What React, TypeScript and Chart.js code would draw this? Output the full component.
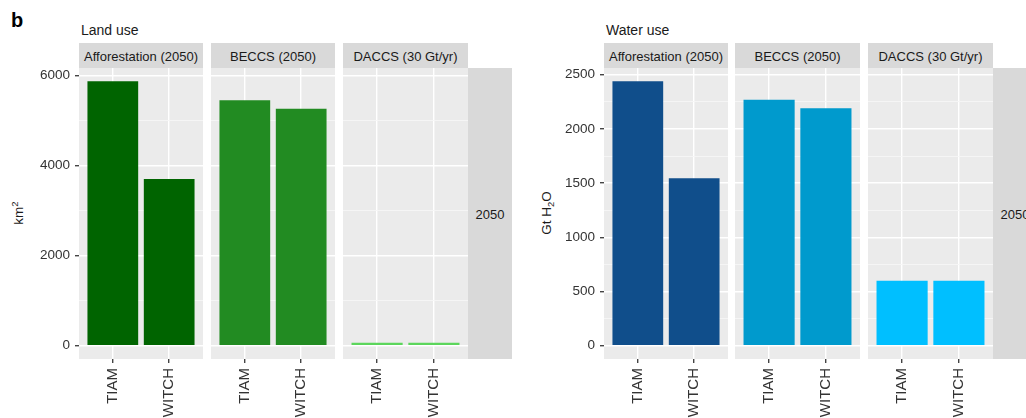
import React, { useEffect, useRef } from "react";
import { Chart, registerables } from "chart.js";

Chart.register(...registerables);

// ---------- data ----------
const models = ["TIAM", "WITCH"];
const technologies = ["Afforestation (2050)", "BECCS (2050)", "DACCS (30 Gt/yr)"];
const yearLabel = "2050";

const landAfforestation = [5870, 3700];
const landBeccs = [5450, 5260];
const landDaccs = [65, 65];

const waterAfforestation = [2440, 1545];
const waterBeccs = [2270, 2190];
const waterDaccs = [600, 600];

const landTicks = [0, 2000, 4000, 6000];
const waterTicks = [0, 500, 1000, 1500, 2000, 2500];

const landColors = ["#006400", "#228B22", "#5CD65C"];
const waterColors = ["#104E8B", "#009ACD", "#00BFFF"];

// ---------- layout ----------
const FONT = "'Liberation Sans', Arial, Helvetica, sans-serif";
const FIG_W = 1026;
const FIG_H = 418;
const STRIP_TOP = 43;
const PANEL_TOP = 68;
const PANEL_BOTTOM = 359;
const CANVAS_TOP = 40;

type Group = {
  title: string;
  titleLeft: number;
  lefts: number[];
  widths: number[];
  axisWidth: number;
  series: number[][];
  colors: string[];
  ticks: number[];
  yTitle: React.ReactNode;
  yTitleX: number;
};

const groups: Group[] = [
  {
    title: "Land use",
    titleLeft: 81,
    lefts: [79, 211, 343],
    widths: [124, 124, 125],
    axisWidth: 49,
    series: [landAfforestation, landBeccs, landDaccs],
    colors: landColors,
    ticks: landTicks,
    yTitle: (
      <span>
        km<sup style={{ fontSize: "70%", verticalAlign: "0.55em", lineHeight: 0 }}>2</sup>
      </span>
    ),
    yTitleX: 19,
  },
  {
    title: "Water use",
    titleLeft: 606,
    lefts: [604, 735, 868],
    widths: [124, 125, 125],
    axisWidth: 50,
    series: [waterAfforestation, waterBeccs, waterDaccs],
    colors: waterColors,
    ticks: waterTicks,
    yTitle: (
      <span>
        Gt H<sub style={{ fontSize: "70%", verticalAlign: "-0.3em", lineHeight: 0 }}>2</sub>O
      </span>
    ),
    yTitleX: 547,
  },
];

const panelBg = {
  id: "panelBg",
  beforeDraw(chart: any) {
    const { ctx, chartArea } = chart;
    ctx.save();
    ctx.fillStyle = "#EBEBEB";
    ctx.fillRect(chartArea.left, chartArea.top, chartArea.right - chartArea.left, chartArea.bottom - chartArea.top);
    ctx.restore();
  },
};

type PanelProps = {
  left: number;
  width: number;
  axisWidth: number;
  values: number[];
  color: string;
  yMin: number;
  yMax: number;
  majorTicks: number[];
  showY: boolean;
};

function Panel({ left, width, axisWidth, values, color, yMin, yMax, majorTicks, showY }: PanelProps) {
  const ref = useRef<HTMLCanvasElement | null>(null);
  const aw = showY ? axisWidth : 0;
  const cw = width + aw;
  const ch = FIG_H - CANVAS_TOP;

  useEffect(() => {
    if (!ref.current) return;
    const step = majorTicks[1] - majorTicks[0];
    const allTicks: number[] = [];
    majorTicks.forEach((t, i) => {
      allTicks.push(t);
      if (i < majorTicks.length - 1) allTicks.push(t + step / 2);
    });
    if (majorTicks[majorTicks.length - 1] + step / 2 < yMax) allTicks.push(majorTicks[majorTicks.length - 1] + step / 2);
    const majorSet = new Set(majorTicks);
    const isMajor = (ctx: any) => majorSet.has(ctx.tick?.value);

    const chart = new Chart(ref.current, {
      type: "bar",
      data: {
        datasets: [
          {
            data: models.map((_, i) => ({ x: i + 1, y: values[i] })),
            backgroundColor: color,
            borderWidth: 0,
            barPercentage: 0.9,
            categoryPercentage: 1,
          } as any,
        ],
      },
      options: {
        animation: false,
        responsive: false,
        maintainAspectRatio: false,
        layout: { padding: { top: PANEL_TOP - CANVAS_TOP, left: 0, right: 0, bottom: 0 } },
        plugins: { legend: { display: false }, tooltip: { enabled: false }, title: { display: false } },
        scales: {
          x: {
            type: "linear",
            min: 0.4,
            max: models.length + 0.6,
            offset: false,
            afterBuildTicks: (s: any) => {
              s.ticks = models.map((_, i) => ({ value: i + 1 }));
            },
            afterFit: (s: any) => {
              s.height = FIG_H - PANEL_BOTTOM;
            },
            ticks: {
              autoSkip: false,
              minRotation: 90,
              maxRotation: 90,
              padding: 5,
              color: "#333333",
              font: { family: FONT, size: 15 },
              callback: (v: any) => models[Math.round(Number(v)) - 1] ?? "",
            },
            grid: { color: "#FFFFFF", lineWidth: 1.4, tickColor: "#444444", tickLength: 4, offset: false },
            border: { display: false },
          } as any,
          y: {
            type: "linear",
            min: yMin,
            max: yMax,
            afterBuildTicks: (s: any) => {
              s.ticks = allTicks.map((v) => ({ value: v }));
            },
            afterFit: (s: any) => {
              s.width = aw;
            },
            ticks: {
              display: showY,
              autoSkip: false,
              padding: 5,
              color: "#333333",
              font: { family: FONT, size: 13.5 },
              callback: (v: any) => (majorSet.has(Number(v)) ? String(v) : ""),
            },
            grid: {
              color: (ctx: any) => (isMajor(ctx) ? "#FFFFFF" : "#F6F6F6"),
              lineWidth: (ctx: any) => (isMajor(ctx) ? 1.4 : 0.9),
              tickColor: (ctx: any) => (isMajor(ctx) && showY ? "#444444" : "rgba(0,0,0,0)"),
              tickLength: 4,
              drawTicks: showY,
            },
            border: { display: false },
          } as any,
        },
      },
      plugins: [panelBg],
    });
    return () => chart.destroy();
  }, [left, width, aw, values, color, yMin, yMax, majorTicks, showY]);

  return (
    <canvas
      ref={ref}
      width={cw}
      height={ch}
      style={{ position: "absolute", left: left - aw, top: CANVAS_TOP, width: cw, height: ch }}
    />
  );
}

function FacetGroup({ g }: { g: Group }) {
  const maxVal = Math.max(0, ...g.series.flat());
  const range = maxVal;
  const yMin = -0.05 * range;
  const yMax = maxVal + 0.05 * range;
  const lastLeft = g.lefts[g.lefts.length - 1] + g.widths[g.widths.length - 1];
  return (
    <>
      <div
        style={{
          position: "absolute",
          left: g.titleLeft,
          top: 23,
          fontSize: 14,
          lineHeight: "14px",
          color: "#1a1a1a",
          whiteSpace: "nowrap",
        }}
      >
        {g.title}
      </div>
      <div
        style={{
          position: "absolute",
          left: g.yTitleX,
          top: 213,
          transform: "translate(-50%, -50%) rotate(-90deg)",
          fontSize: 13.5,
          lineHeight: "14px",
          color: "#1a1a1a",
          whiteSpace: "nowrap",
        }}
      >
        {g.yTitle}
      </div>
      {technologies.map((t, i) => (
        <React.Fragment key={t}>
          <div
            style={{
              position: "absolute",
              left: g.lefts[i],
              top: STRIP_TOP,
              width: g.widths[i],
              height: PANEL_TOP - STRIP_TOP,
              background: "#D9D9D9",
              display: "flex",
              alignItems: "center",
              justifyContent: "center",
              fontSize: 13,
              lineHeight: "13px",
              paddingTop: 2,
              boxSizing: "border-box",
              color: "#1a1a1a",
              whiteSpace: "nowrap",
            }}
          >
            {t}
          </div>
          <Panel
            left={g.lefts[i]}
            width={g.widths[i]}
            axisWidth={g.axisWidth}
            values={g.series[i]}
            color={g.colors[i]}
            yMin={yMin}
            yMax={yMax}
            majorTicks={g.ticks}
            showY={i === 0}
          />
        </React.Fragment>
      ))}
      <div
        style={{
          position: "absolute",
          left: lastLeft,
          top: PANEL_TOP,
          width: 44,
          height: PANEL_BOTTOM - PANEL_TOP,
          background: "#D9D9D9",
          display: "flex",
          alignItems: "center",
          justifyContent: "center",
          fontSize: 13,
          lineHeight: "13px",
          color: "#1a1a1a",
          whiteSpace: "nowrap",
          paddingTop: 2,
          boxSizing: "border-box",
        }}
      >
        {yearLabel}
      </div>
    </>
  );
}

export default function App() {
  return (
    <div
      style={{
        position: "absolute",
        left: 0,
        top: 0,
        width: FIG_W,
        height: FIG_H,
        overflow: "hidden",
        background: "#FFFFFF",
        fontFamily: FONT,
      }}
    >
      <div
        style={{
          position: "absolute",
          left: 11,
          top: 10,
          fontSize: 20,
          lineHeight: "20px",
          fontWeight: "bold",
          color: "#000",
        }}
      >
        b
      </div>
      {groups.map((g) => (
        <FacetGroup key={g.title} g={g} />
      ))}
    </div>
  );
}
